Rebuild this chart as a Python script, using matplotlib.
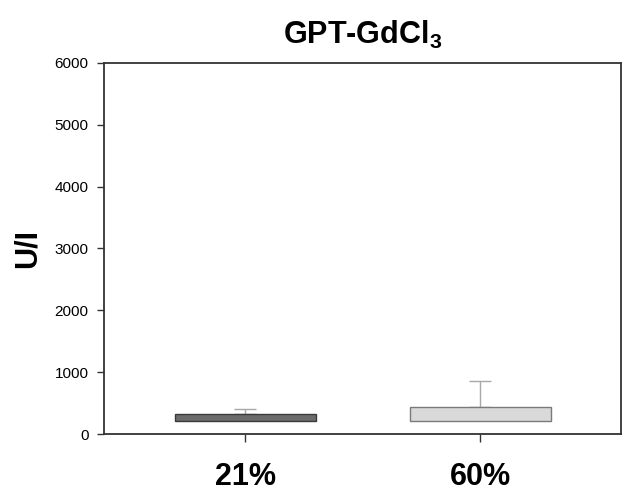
import matplotlib
matplotlib.use("Agg")
import matplotlib.pyplot as plt

plt.rcParams['font.family'] = ['Liberation Sans', 'DejaVu Sans']
plt.rcParams['mathtext.fontset'] = 'custom'
plt.rcParams['mathtext.rm'] = 'Liberation Sans'
plt.rcParams['mathtext.bf'] = 'Liberation Sans:bold'

categories = ['21%', '60%']
bar_low = [215, 215]
bar_high = [328, 437]
err_top = [409, 857]
bar_colors = ['#6b6b6b', '#d9d9d9']
edge_colors = ['#3a3a3a', '#7a7a7a']
yticks = [0, 1000, 2000, 3000, 4000, 5000, 6000]

fig = plt.figure(figsize=(6.22, 4.94), dpi=100)
ax = fig.add_axes([104/622, 60/494, 517/622, 371/494])

x = [1, 2]
heights = [h - l for h, l in zip(bar_high, bar_low)]
ax.bar(x, heights, bottom=bar_low, width=0.6, color=bar_colors,
       edgecolor=edge_colors, linewidth=1.0, zorder=2)
upper = [e - h for e, h in zip(err_top, bar_high)]
ax.errorbar(x, bar_high, yerr=[[0, 0], upper], fmt='none', ecolor='#a8a8a8',
            elinewidth=1.0, capsize=8, capthick=1.0, zorder=1)

ax.set_xlim(0.4, 2.6)
ax.set_ylim(0, 6000)
ax.set_yticks(yticks)
ax.set_yticklabels([str(v) for v in yticks], fontsize=11)
ax.set_xticks(x)
ax.set_xticklabels(categories, fontsize=22, fontweight='bold')
ax.tick_params(axis='y', direction='out', length=5, width=1, pad=6, color='#333333')
ax.tick_params(axis='x', direction='out', length=6, width=1, pad=14, color='#333333')
for s in ax.spines.values():
    s.set_linewidth(1.3)
    s.set_color('#333333')

ax.set_ylabel('U/I', fontsize=22, fontweight='bold', labelpad=9)
ax.set_title('GPT-GdCl$_\\mathbf{3}$', fontsize=22, fontweight='bold', pad=14)

fig.savefig('out.png', dpi=100)
